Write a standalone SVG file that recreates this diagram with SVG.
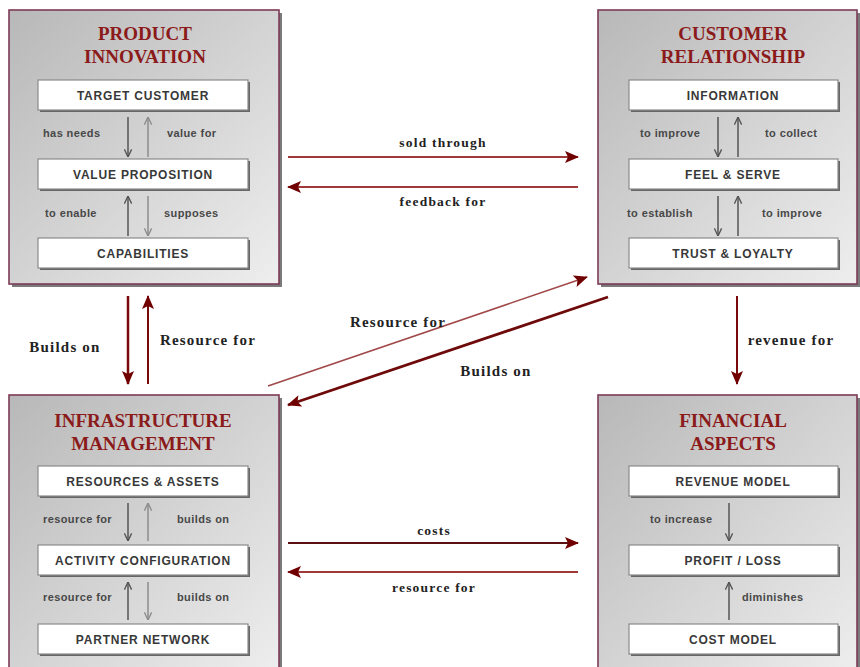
<svg xmlns="http://www.w3.org/2000/svg" width="860" height="667" viewBox="0 0 860 667">
<style>
.bg{fill:url(#g);stroke:#7d3a55;stroke-width:1.6}
.sh{fill:#7a7a7a}
.title{font-family:"Liberation Serif",serif;font-weight:bold;font-size:19px;fill:#8b1a1a;text-anchor:middle}
.ib{fill:#fff;stroke:#8a8a8a;stroke-width:1.2}
.ibs{fill:#666}
.it{font-family:"Liberation Sans",Arial,sans-serif;font-weight:bold;font-size:12px;fill:#383838;text-anchor:middle;letter-spacing:0.8px}
.lab{font-family:"Liberation Sans",Arial,sans-serif;font-weight:bold;font-size:11px;fill:#484848;letter-spacing:0.4px}
.ad{stroke:#555;stroke-width:1.5;fill:none;marker-end:url(#vd)}
.al{stroke:#8c8c8c;stroke-width:1.5;fill:none;marker-end:url(#vl)}
.c{fill:none;marker-end:url(#fh)}
.cl{font-family:"Liberation Serif",serif;font-weight:bold;font-size:13.5px;fill:#222;text-anchor:middle;letter-spacing:1.2px}
.cm{font-family:"Liberation Serif",serif;font-weight:bold;font-size:15px;fill:#222;text-anchor:middle;letter-spacing:1.2px}
</style>
<defs>
<linearGradient id="g" x1="0" y1="0" x2="1" y2="1">
<stop offset="0" stop-color="#b8b8b8"/>
<stop offset="1" stop-color="#eeeeee"/>
</linearGradient>
<marker id="vd" viewBox="0 0 10 10" refX="9.5" refY="5" markerWidth="9" markerHeight="9" orient="auto" markerUnits="userSpaceOnUse">
<path d="M1,1 L9.5,5 L1,9" fill="none" stroke="#555" stroke-width="1.5"/>
</marker>
<marker id="vl" viewBox="0 0 10 10" refX="9.5" refY="5" markerWidth="9" markerHeight="9" orient="auto" markerUnits="userSpaceOnUse">
<path d="M1,1 L9.5,5 L1,9" fill="none" stroke="#8c8c8c" stroke-width="1.5"/>
</marker>
<marker id="fh" viewBox="0 0 14 12" refX="13" refY="6" markerWidth="15" markerHeight="12" orient="auto" markerUnits="userSpaceOnUse">
<path d="M0,0 L14,6 L0,12 L3,6 z" fill="#700000"/>
</marker>
</defs>
<rect width="860" height="667" fill="#fff"/>

<g id="product-innovation">
<rect class="sh" x="12" y="13" width="270" height="274"/>
<rect class="bg" x="9" y="10" width="270" height="274"/>
<text class="title" x="145" y="40">PRODUCT</text>
<text class="title" x="145" y="63">INNOVATION</text>
<g id="target-customer"><rect class="ibs" x="40" y="82" width="210" height="30"/><rect class="ib" x="38" y="80" width="210" height="30"/><text class="it" x="143" y="99.5">TARGET CUSTOMER</text></g>
<g id="value-proposition"><rect class="ibs" x="40" y="161" width="210" height="30"/><rect class="ib" x="38" y="159" width="210" height="30"/><text class="it" x="143" y="178.5">VALUE PROPOSITION</text></g>
<g id="capabilities"><rect class="ibs" x="40" y="240" width="210" height="30"/><rect class="ib" x="38" y="238" width="210" height="30"/><text class="it" x="143" y="257.5">CAPABILITIES</text></g>
<path class="ad" d="M128,117 V157"/><path class="al" d="M148,157 V117"/>
<path class="ad" d="M128,236 V196"/><path class="al" d="M148,196 V236"/>
<text class="lab" x="43" y="137">has needs</text><text class="lab" x="167" y="137">value for</text>
<text class="lab" x="45" y="217">to enable</text><text class="lab" x="164" y="217">supposes</text>
</g>

<g id="customer-relationship">
<rect class="sh" x="601" y="13" width="259" height="274"/>
<rect class="bg" x="598" y="10" width="259" height="274"/>
<text class="title" x="733" y="40">CUSTOMER</text>
<text class="title" x="733" y="63">RELATIONSHIP</text>
<g id="information"><rect class="ibs" x="631" y="82" width="209" height="30"/><rect class="ib" x="629" y="80" width="209" height="30"/><text class="it" x="733" y="99.5">INFORMATION</text></g>
<g id="feel-serve"><rect class="ibs" x="631" y="161" width="209" height="30"/><rect class="ib" x="629" y="159" width="209" height="30"/><text class="it" x="733" y="178.5">FEEL &amp; SERVE</text></g>
<g id="trust-loyalty"><rect class="ibs" x="631" y="240" width="209" height="30"/><rect class="ib" x="629" y="238" width="209" height="30"/><text class="it" x="733" y="257.5">TRUST &amp; LOYALTY</text></g>
<path class="ad" d="M718,117 V157"/><path class="ad" d="M738,157 V117"/>
<path class="ad" d="M718,196 V236"/><path class="ad" d="M738,236 V196"/>
<text class="lab" x="640" y="137">to improve</text><text class="lab" x="765" y="137">to collect</text>
<text class="lab" x="627" y="217">to establish</text><text class="lab" x="762" y="217">to improve</text>
</g>

<g id="infrastructure-management">
<rect class="sh" x="12" y="398" width="270" height="280"/>
<rect class="bg" x="9" y="395" width="270" height="280"/>
<text class="title" x="143" y="427">INFRASTRUCTURE</text>
<text class="title" x="143" y="450">MANAGEMENT</text>
<g id="resources-assets"><rect class="ibs" x="40" y="468" width="210" height="30"/><rect class="ib" x="38" y="466" width="210" height="30"/><text class="it" x="143" y="485.5">RESOURCES &amp; ASSETS</text></g>
<g id="activity-configuration"><rect class="ibs" x="40" y="547" width="210" height="30"/><rect class="ib" x="38" y="545" width="210" height="30"/><text class="it" x="143" y="564.5">ACTIVITY CONFIGURATION</text></g>
<g id="partner-network"><rect class="ibs" x="40" y="626" width="210" height="30"/><rect class="ib" x="38" y="624" width="210" height="30"/><text class="it" x="143" y="643.5">PARTNER NETWORK</text></g>
<path class="ad" d="M128,503 V541"/><path class="al" d="M148,541 V503"/>
<path class="ad" d="M128,620 V582"/><path class="al" d="M148,582 V620"/>
<text class="lab" x="43" y="523">resource for</text><text class="lab" x="177" y="523">builds on</text>
<text class="lab" x="43" y="601">resource for</text><text class="lab" x="177" y="601">builds on</text>
</g>

<g id="financial-aspects">
<rect class="sh" x="601" y="398" width="259" height="280"/>
<rect class="bg" x="598" y="395" width="259" height="280"/>
<text class="title" x="733" y="427">FINANCIAL</text>
<text class="title" x="733" y="450">ASPECTS</text>
<g id="revenue-model"><rect class="ibs" x="631" y="468" width="209" height="30"/><rect class="ib" x="629" y="466" width="209" height="30"/><text class="it" x="733" y="485.5">REVENUE MODEL</text></g>
<g id="profit-loss"><rect class="ibs" x="631" y="547" width="209" height="30"/><rect class="ib" x="629" y="545" width="209" height="30"/><text class="it" x="733" y="564.5">PROFIT / LOSS</text></g>
<g id="cost-model"><rect class="ibs" x="631" y="626" width="209" height="30"/><rect class="ib" x="629" y="624" width="209" height="30"/><text class="it" x="733" y="643.5">COST MODEL</text></g>
<path class="ad" d="M729,503 V541"/><path class="ad" d="M729,620 V582"/>
<text class="lab" x="650" y="523">to increase</text><text class="lab" x="742" y="601">diminishes</text>
</g>

<g id="connectors">
<path class="c" d="M288,157 H578" stroke="#a03a3a" stroke-width="2"/>
<path class="c" d="M578,187 H288" stroke="#a03a3a" stroke-width="2"/>
<path class="c" d="M128,296 V384" stroke="#7a0a0a" stroke-width="2.5"/>
<path class="c" d="M148,384 V296" stroke="#7a0a0a" stroke-width="2"/>
<path class="c" d="M268,386 L587,277" stroke="#a04848" stroke-width="1.6"/>
<path class="c" d="M608,297 L288,405" stroke="#6e0a0a" stroke-width="2.8"/>
<path class="c" d="M737,296 V384" stroke="#7a0a0a" stroke-width="2"/>
<path class="c" d="M288,543 H578" stroke="#5a1010" stroke-width="2.2"/>
<path class="c" d="M578,572 H288" stroke="#a03a3a" stroke-width="2"/>
<text class="cl" x="443" y="147">sold through</text>
<text class="cl" x="443" y="206">feedback for</text>
<text class="cm" x="65" y="352">Builds on</text>
<text class="cm" x="208" y="345">Resource for</text>
<text class="cm" x="398" y="327">Resource for</text>
<text class="cm" x="496" y="376">Builds on</text>
<text class="cm" x="791" y="345">revenue for</text>
<text class="cl" x="434" y="535">costs</text>
<text class="cl" x="434" y="592">resource for</text>
</g>
</svg>
